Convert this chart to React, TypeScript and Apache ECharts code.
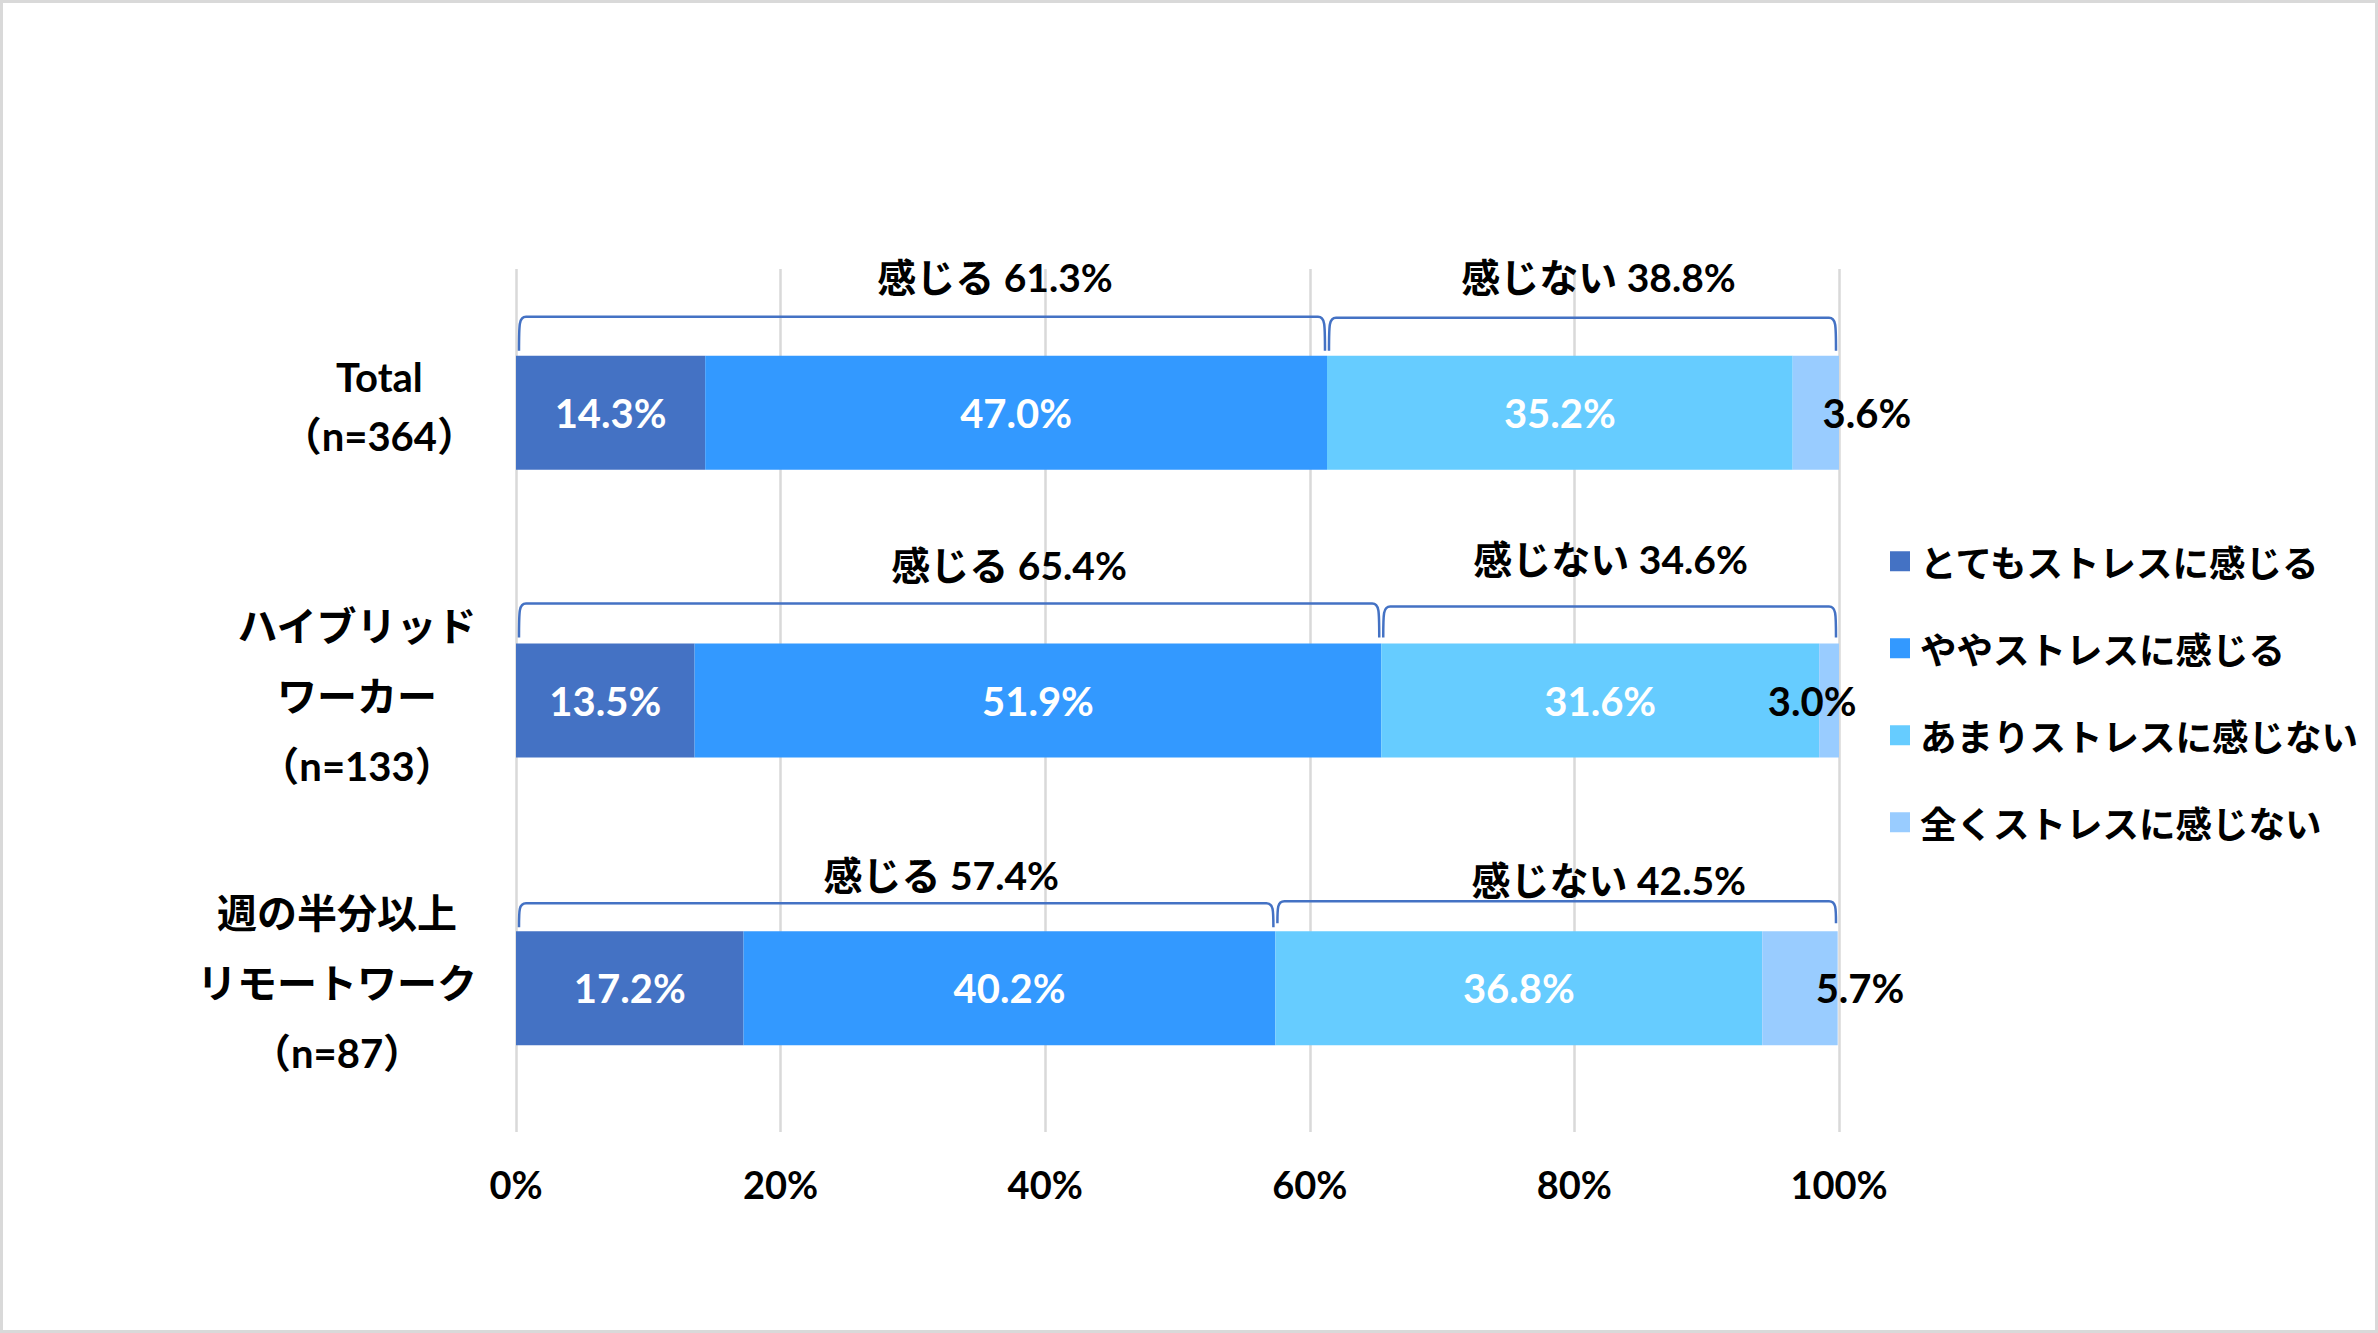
import React, { useEffect, useRef } from 'react';
import * as echarts from 'echarts';

// ---- data ----
const categories = ['Total\n（n=364）', 'ハイブリッド\nワーカー\n（n=133）', '週の半分以上\nリモートワーク\n（n=87）'];
const seriesNames = ['とてもストレスに感じる', 'ややストレスに感じる', 'あまりストレスに感じない', '全くストレスに感じない'];
// bar lengths as drawn in the reference
const veryStressed = [14.3, 13.5, 17.2];
const somewhatStressed = [47.0, 51.9, 40.2];
const notVeryStressed = [35.2, 33.1, 36.8];
const notAtAllStressed = [3.6, 1.5, 5.7];
// values printed on the bars in the reference
const veryStressedLabels = [14.3, 13.5, 17.2];
const somewhatStressedLabels = [47.0, 51.9, 40.2];
const notVeryStressedLabels = [35.2, 31.6, 36.8];
const notAtAllStressedLabels = [3.6, 3.0, 5.7];
const groupNames = ['感じる', '感じない'];
const xTickMin = 0;
const xTickMax = 100;
const xTickStep = 20;

// ---- styling / layout config ----
const COLORS = ['#4472C4', '#3399FF', '#66CCFF', '#99CCFF'];
const FONT = "Lato, 'Noto Sans CJK JP', sans-serif";
const JP_FONT = "'Noto Sans CJK JP', sans-serif";
const BAR_H = 114;
const lastLabelDx = [51, -17, 60];
// bracket top relative to bar top [left, right]
const bracketTopDy = [[-39, -38], [-40, -37], [-28, -30]];
const bracketEndDy = [[-5, -5], [-6, -6], [-4, -8]];
// bracket label offsets: dx from bracket centre, dy from category centre
const bracketLabelDx = [[73, 16], [60, 1], [45, 52]];
const bracketLabelDy = [[-136, -136], [-136, -142], [-113, -108]];
const categoryPadBottom = [12, 10, 10];

const seriesData = [veryStressed, somewhatStressed, notVeryStressed, notAtAllStressed];
const labelData = [veryStressedLabels, somewhatStressedLabels, notVeryStressedLabels, notAtAllStressedLabels];

function bracketPath(a: number, b: number, top: number, bottom: number) {
  const r = 7;
  return `M${a},${bottom} C${a},${top + r} ${a},${top} ${a + r},${top} L${b - r},${top} C${b},${top} ${b},${top + r} ${b},${bottom}`;
}

export default function App() {
  const ref = useRef<HTMLDivElement>(null);
  useEffect(() => {
    if (!ref.current) return;
    const chart = echarts.init(ref.current, undefined, { renderer: 'svg' });
    const feel = categories.map((_, i) => veryStressedLabels[i] + somewhatStressedLabels[i]);
    const notFeel = categories.map((_, i) => notVeryStressedLabels[i] + notAtAllStressedLabels[i]);
    const feelEnd = categories.map((_, i) => veryStressed[i] + somewhatStressed[i]);

    const barSeries = seriesNames.map((name, s) => ({
      name,
      type: 'bar',
      stack: 'total',
      barWidth: BAR_H,
      itemStyle: { color: COLORS[s] },
      label: {
        show: true,
        position: 'inside',
        color: s === 3 ? '#000' : '#fff',
        fontSize: 40,
        fontWeight: 'bold',
        fontFamily: FONT,
        formatter: (p: any) => `${labelData[s][p.dataIndex].toFixed(1)}%`,
      },
      data: seriesData[s].map((v, i) =>
        s === 3 ? { value: v, label: { offset: [lastLabelDx[i], 0] } } : v
      ),
      z: 2,
    }));

    const bracketSeries = {
      type: 'custom',
      silent: true,
      clip: false,
      z: 5,
      encode: { x: 0, y: 1 },
      data: categories.map((_, i) => [0, i]),
      renderItem: (params: any, api: any) => {
        const i = params.dataIndex;
        const c0 = api.coord([0, i]);
        const yc = c0[1];
        const barTop = yc - BAR_H / 2;
        const x0 = c0[0];
        const x1 = api.coord([feelEnd[i], i])[0];
        const x2 = api.coord([100, i])[0];
        const spans = [
          [x0 + 3, x1 - 2],
          [x1 + 2, x2 - 3],
        ];
        const vals = [feel[i], notFeel[i]];
        const children: any[] = [];
        spans.forEach(([a, b], k) => {
          children.push({
            type: 'path',
            shape: { pathData: bracketPath(a, b, barTop + bracketTopDy[i][k], barTop + bracketEndDy[i][k]) },
            style: { fill: 'none', stroke: '#4472C4', lineWidth: 2.5 },
          });
          children.push({
            type: 'text',
            x: (a + b) / 2 + bracketLabelDx[i][k],
            y: yc + bracketLabelDy[i][k],
            style: {
              text: `${groupNames[k]} ${vals[k].toFixed(1)}%`,
              fill: '#000',
              fontSize: 39,
              fontWeight: 'bold',
              fontFamily: FONT,
              align: 'center',
              verticalAlign: 'middle',
            },
          });
        });
        return { type: 'group', children };
      },
    };

    chart.setOption({
      animation: false,
      backgroundColor: '#fff',
      graphic: [
        {
          type: 'rect',
          silent: true,
          shape: { x: 1.5, y: 1.5, width: 2375, height: 1330 },
          style: { fill: 'none', stroke: '#D9D9D9', lineWidth: 3 },
        },
      ],
      grid: { left: 516, right: 539, top: 269, bottom: 201, containLabel: false, outerBoundsMode: 'none' },
      legend: {
        orient: 'vertical',
        left: 1890,
        top: 543,
        padding: 0,
        itemGap: 50.5,
        itemWidth: 20,
        itemHeight: 20,
        icon: 'rect',
        data: seriesNames,
        textStyle: {
          fontSize: 36.5,
          fontWeight: 'bold',
          fontFamily: JP_FONT,
          color: '#000',
          lineHeight: 36,
          padding: [0, 0, 0, 5],
        },
      },
      xAxis: {
        type: 'value',
        min: xTickMin,
        max: xTickMax,
        interval: xTickStep,
        axisLine: { show: false },
        axisTick: { show: false },
        splitLine: { show: true, lineStyle: { color: '#D9D9D9', width: 2.5 } },
        axisLabel: {
          margin: 33,
          formatter: '{value}%',
          fontSize: 38,
          fontWeight: 'bold',
          fontFamily: FONT,
          color: '#000',
        },
      },
      yAxis: {
        type: 'category',
        inverse: true,
        data: categories.map((c, i) => ({ value: c, textStyle: { padding: [0, 0, categoryPadBottom[i], 0] } })),
        axisLine: { show: false },
        axisTick: { show: false },
        axisLabel: {
          margin: 39,
          align: 'right',
          formatter: (v: string, idx: number) =>
            v.split('\n').map((l) => `{${idx === 0 ? 't' : 'j'}|${l}}`).join('\n'),
          rich: {
            t: { align: 'center', fontSize: 40, fontWeight: 'bold', fontFamily: FONT, color: '#000', lineHeight: 59 },
            j: { align: 'center', fontSize: 40, fontWeight: 'bold', fontFamily: FONT, color: '#000', lineHeight: 70 },
          },
        },
      },
      series: [...barSeries, bracketSeries],
    } as any);
    return () => chart.dispose();
  }, []);
  return (
    <div
      ref={ref}
      style={{ position: 'fixed', left: 0, top: 0, width: '2378px', height: '1333px', background: '#fff' }}
    />
  );
}
